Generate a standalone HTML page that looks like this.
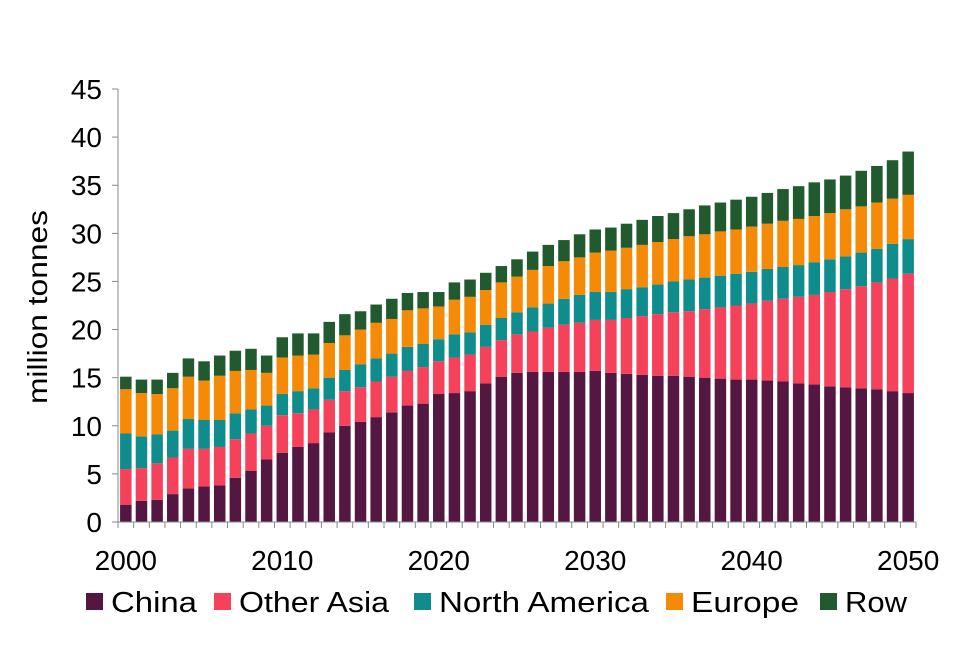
<!DOCTYPE html>
<html><head><meta charset="utf-8"><style>
body{margin:0;background:#fff;font-family:"Liberation Sans",Arial,sans-serif}
</style></head><body>
<svg id="chart" width="954" height="662" xmlns="http://www.w3.org/2000/svg" font-family="Liberation Sans, Arial, sans-serif"></svg>
<script>
const years=[];for(let y=2000;y<=2050;y++)years.push(y);
const china=[1.8,2.2,2.3,2.9,3.5,3.7,3.8,4.6,5.3,6.5,7.2,7.8,8.2,9.3,10.0,10.4,10.9,11.4,12.1,12.3,13.3,13.4,13.6,14.4,15.1,15.5,15.6,15.6,15.6,15.6,15.7,15.5,15.4,15.3,15.2,15.2,15.1,15.0,14.9,14.8,14.8,14.7,14.6,14.4,14.3,14.1,14.0,13.9,13.8,13.6,13.4];
const otherAsia=[3.7,3.4,3.8,3.8,4.1,3.9,4.0,4.0,3.9,3.5,3.9,3.5,3.5,3.4,3.6,3.6,3.7,3.7,3.6,3.8,3.4,3.7,3.8,3.8,3.8,4.0,4.2,4.6,4.9,5.1,5.3,5.5,5.8,6.1,6.4,6.6,6.8,7.1,7.4,7.7,7.9,8.3,8.6,9.0,9.3,9.8,10.2,10.6,11.1,11.7,12.4];
const northAmerica=[3.7,3.3,3.0,2.8,3.1,3.0,2.8,2.7,2.5,2.1,2.2,2.3,2.2,2.3,2.2,2.4,2.4,2.4,2.5,2.4,2.3,2.4,2.3,2.3,2.3,2.3,2.5,2.5,2.7,2.9,2.9,2.9,3.0,3.0,3.1,3.2,3.3,3.3,3.3,3.3,3.3,3.3,3.3,3.3,3.4,3.4,3.4,3.5,3.5,3.6,3.6];
const europe=[4.6,4.5,4.2,4.4,4.4,4.1,4.6,4.4,4.1,3.4,3.8,3.7,3.5,3.6,3.6,3.6,3.7,3.6,3.8,3.7,3.4,3.6,3.7,3.6,3.7,3.7,3.9,3.9,3.9,3.9,4.1,4.3,4.3,4.4,4.4,4.4,4.5,4.5,4.6,4.6,4.7,4.7,4.8,4.8,4.8,4.8,4.9,4.8,4.8,4.7,4.6];
const row=[1.3,1.4,1.5,1.6,1.9,2.0,2.1,2.1,2.2,1.8,2.1,2.3,2.2,2.2,2.2,1.9,1.9,2.1,1.8,1.7,1.5,1.8,1.8,1.8,1.7,1.8,1.9,2.2,2.2,2.4,2.4,2.4,2.5,2.6,2.7,2.7,2.8,3.0,3.0,3.1,3.1,3.2,3.3,3.4,3.5,3.5,3.5,3.7,3.8,4.0,4.5];
const yTicks=[0,5,10,15,20,25,30,35,40,45];
const xTickLabels=[2000,2010,2020,2030,2040,2050];
const seriesNames=["China","Other Asia","North America","Europe","Row"];

const svg=document.getElementById('chart');
const NS='http://www.w3.org/2000/svg';
const colors=["#541742","#f5415a","#0f8c8c","#f58a07","#215a2f"];
const series=[china,otherAsia,northAmerica,europe,row];
const X0=118,X1=916,Y0=522,Y1=89,YMAX=45;
const slot=(X1-X0)/years.length,bw=11.5;
const ys=v=>Y0-(v/YMAX)*(Y0-Y1);
const xc=i=>X0+slot*(i+0.5);
function mk(t,a){const e=document.createElementNS(NS,t);for(const k in a)e.setAttribute(k,a[k]);svg.appendChild(e);return e;}
years.forEach((yr,i)=>{let base=0;series.forEach((s,k)=>{const top=base+s[i];
const r=mk('rect',{x:xc(i)-bw/2,y:ys(top),width:bw,height:ys(base)-ys(top),fill:colors[k]});


base=top;});});
const ya=mk('line',{x1:X0,y1:Y1,x2:X0,y2:Y0,stroke:'#888','stroke-width':1});

const xa=mk('line',{x1:X0,y1:Y0,x2:X1,y2:Y0,stroke:'#888','stroke-width':1});

yTicks.forEach(v=>{const l=mk('line',{x1:X0-6,y1:ys(v),x2:X0,y2:ys(v),stroke:'#888'});

const t=mk('text',{x:X0-16,y:ys(v)+10,'text-anchor':'end','font-size':28,fill:'#000'});t.textContent=v;
});
for(let i=0;i<=years.length;i++){const l=mk('line',{x1:X0+slot*i,y1:Y0,x2:X0+slot*i,y2:Y0+6,stroke:'#888'});
}
xTickLabels.forEach(yr=>{const i=years.indexOf(yr);const t=mk('text',{x:xc(i),y:570,'text-anchor':'middle','font-size':28,fill:'#000'});t.textContent=yr;
});
const yt=mk('text',{x:0,y:0,transform:'translate(47,307) rotate(-90)','text-anchor':'middle','font-size':28,textLength:194,lengthAdjust:'spacingAndGlyphs',fill:'#000'});yt.textContent='million tonnes';

const lx=[86,214,414,666,820];
const lw=[86,150,210,108,62];
seriesNames.forEach((n,k)=>{const g=mk('g',{});
const r=document.createElementNS(NS,'rect');r.setAttribute('x',lx[k]);r.setAttribute('y',593);r.setAttribute('width',17);r.setAttribute('height',17);r.setAttribute('fill',colors[k]);g.appendChild(r);
const t=document.createElementNS(NS,'text');t.setAttribute('x',lx[k]+25);t.setAttribute('y',612);t.setAttribute('font-size',29);t.setAttribute('textLength',lw[k]);t.setAttribute('lengthAdjust','spacingAndGlyphs');t.textContent=n;g.appendChild(t);});
</script>
</body></html>
